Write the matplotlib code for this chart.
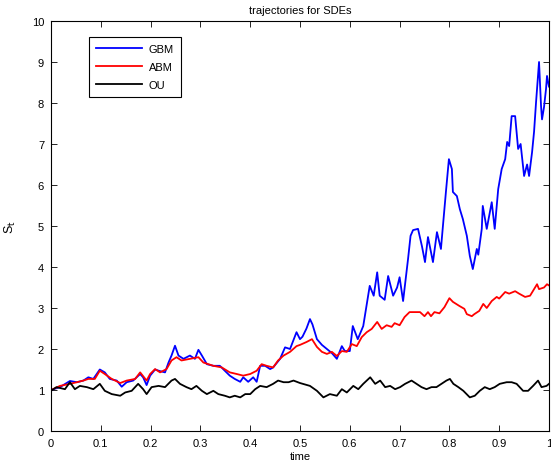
import matplotlib

matplotlib.use("Agg")
import matplotlib.pyplot as plt

plt.rcParams["font.family"] = ["Liberation Sans", "DejaVu Sans"]

# GBM path
gbm_t = [0.0, 0.018, 0.038, 0.052, 0.065, 0.075, 0.085, 0.098, 0.108, 0.118,
         0.132, 0.142, 0.152, 0.165, 0.179, 0.185, 0.192, 0.199, 0.209, 0.219,
         0.229, 0.236, 0.242, 0.249, 0.256, 0.266, 0.279, 0.289, 0.296, 0.303,
         0.313, 0.326, 0.339, 0.349, 0.359, 0.369, 0.38, 0.386, 0.396, 0.406,
         0.413, 0.42, 0.43, 0.44, 0.446, 0.46, 0.47, 0.48, 0.493, 0.5,
         0.505, 0.513, 0.52, 0.525, 0.534, 0.544, 0.554, 0.564, 0.574, 0.584,
         0.59, 0.6, 0.606, 0.616, 0.627, 0.64, 0.648, 0.655, 0.66, 0.67,
         0.677, 0.687, 0.695, 0.7, 0.707, 0.717, 0.722, 0.727, 0.737, 0.745,
         0.751, 0.757, 0.767, 0.775, 0.783, 0.787, 0.793, 0.799, 0.805, 0.807,
         0.815, 0.821, 0.827, 0.835, 0.841, 0.847, 0.855, 0.858, 0.865, 0.867,
         0.875, 0.885, 0.891, 0.898, 0.905, 0.912, 0.916, 0.92, 0.925, 0.932,
         0.938, 0.943, 0.95, 0.956, 0.96, 0.966, 0.97, 0.974, 0.98, 0.984,
         0.986, 0.99, 0.994, 0.996, 1.0]
gbm_s = [1.0, 1.07, 1.22, 1.19, 1.23, 1.31, 1.27, 1.5, 1.43, 1.27,
         1.23, 1.08, 1.19, 1.23, 1.39, 1.31, 1.12, 1.35, 1.5, 1.46,
         1.43, 1.67, 1.84, 2.08, 1.84, 1.76, 1.84, 1.76, 1.98, 1.84,
         1.63, 1.59, 1.59, 1.47, 1.35, 1.27, 1.2, 1.31, 1.2, 1.31,
         1.2, 1.59, 1.59, 1.51, 1.55, 1.76, 2.04, 2.0, 2.41, 2.24,
         2.3, 2.5, 2.73, 2.6, 2.24, 2.1, 2.0, 1.9, 1.76, 2.07,
         1.95, 1.95, 2.56, 2.24, 2.56, 3.54, 3.3, 3.87, 3.3, 3.2,
         3.78, 3.3, 3.5, 3.75, 3.17, 4.2, 4.76, 4.9, 4.93, 4.5,
         4.12, 4.73, 4.12, 4.85, 4.44, 5.0, 5.83, 6.63, 6.39, 5.83,
         5.73, 5.41, 5.17, 4.76, 4.27, 3.95, 4.44, 4.3, 4.93, 5.49,
         4.93, 5.58, 4.93, 5.9, 6.39, 6.63, 7.05, 6.95, 7.68, 7.68,
         6.88, 7.0, 6.22, 6.5, 6.22, 6.8, 7.3, 8.02, 9.0, 7.93,
         7.6, 7.9, 8.34, 8.66, 8.4]

# ABM path
abm_t = [0.0, 0.018, 0.038, 0.052, 0.065, 0.075, 0.088, 0.098, 0.108, 0.122,
         0.139, 0.152, 0.169, 0.179, 0.192, 0.199, 0.209, 0.219, 0.232, 0.242,
         0.252, 0.262, 0.279, 0.296, 0.306, 0.326, 0.343, 0.359, 0.373, 0.386,
         0.4, 0.413, 0.423, 0.433, 0.446, 0.456, 0.467, 0.48, 0.493, 0.5,
         0.513, 0.524, 0.534, 0.544, 0.554, 0.564, 0.574, 0.584, 0.594, 0.604,
         0.614, 0.624, 0.634, 0.644, 0.655, 0.664, 0.674, 0.684, 0.69, 0.7,
         0.71, 0.72, 0.73, 0.741, 0.75, 0.757, 0.763, 0.77, 0.78, 0.79,
         0.8, 0.807, 0.82, 0.83, 0.835, 0.845, 0.85, 0.86, 0.868, 0.875,
         0.885, 0.895, 0.9, 0.912, 0.92, 0.932, 0.94, 0.952, 0.962, 0.968,
         0.976, 0.98, 0.99, 0.996, 1.0]
abm_s = [1.0, 1.1, 1.15, 1.19, 1.23, 1.27, 1.27, 1.47, 1.39, 1.27,
         1.17, 1.23, 1.27, 1.43, 1.23, 1.39, 1.51, 1.43, 1.51, 1.72,
         1.8, 1.72, 1.76, 1.8, 1.67, 1.59, 1.55, 1.43, 1.39, 1.35,
         1.39, 1.47, 1.63, 1.59, 1.55, 1.72, 1.84, 1.93, 2.07, 2.1,
         2.17, 2.24, 2.05, 1.93, 1.88, 1.93, 1.83, 1.95, 1.93, 2.12,
         2.07, 2.29, 2.41, 2.49, 2.66, 2.49, 2.58, 2.54, 2.63, 2.58,
         2.78, 2.9, 2.9, 2.9, 2.8, 2.9, 2.8, 2.9, 2.87, 3.02,
         3.24, 3.15, 3.05, 2.98, 2.85, 2.8, 2.85, 2.93, 3.1, 3.0,
         3.17, 3.27, 3.23, 3.39, 3.35, 3.41, 3.35, 3.27, 3.3, 3.42,
         3.58, 3.46, 3.5, 3.58, 3.55]

# OU path
ou_t = [0.0, 0.011, 0.028, 0.038, 0.048, 0.058, 0.072, 0.085, 0.098, 0.108,
        0.122, 0.139, 0.149, 0.162, 0.175, 0.185, 0.192, 0.202, 0.216, 0.229,
        0.242, 0.249, 0.259, 0.272, 0.282, 0.292, 0.303, 0.313, 0.326, 0.336,
        0.349, 0.359, 0.369, 0.38, 0.39, 0.4, 0.41, 0.42, 0.433, 0.446,
        0.456, 0.467, 0.477, 0.487, 0.5, 0.52, 0.534, 0.547, 0.56, 0.574,
        0.584, 0.594, 0.607, 0.617, 0.627, 0.641, 0.651, 0.661, 0.671, 0.681,
        0.691, 0.701, 0.711, 0.724, 0.734, 0.744, 0.754, 0.764, 0.774, 0.784,
        0.794, 0.801, 0.808, 0.818, 0.828, 0.841, 0.851, 0.861, 0.871, 0.881,
        0.891, 0.901, 0.915, 0.925, 0.935, 0.948, 0.958, 0.968, 0.978, 0.985,
        0.995, 1.0]
ou_s = [0.98, 1.07, 1.02, 1.19, 1.02, 1.1, 1.07, 1.02, 1.15, 0.98,
        0.9, 0.86, 0.94, 0.98, 1.15, 1.02, 0.9, 1.07, 1.1, 1.07,
        1.23, 1.27, 1.15, 1.07, 1.02, 1.1, 0.98, 0.9, 0.98, 0.9,
        0.86, 0.82, 0.86, 0.82, 0.9, 0.9, 1.02, 1.1, 1.07, 1.15,
        1.23, 1.19, 1.19, 1.23, 1.17, 1.1, 0.98, 0.82, 0.9, 0.86,
        1.02, 0.94, 1.1, 1.02, 1.15, 1.31, 1.15, 1.23, 1.07, 1.1,
        1.02, 1.07, 1.15, 1.23, 1.15, 1.07, 1.02, 1.07, 1.07, 1.15,
        1.23, 1.27, 1.15, 1.07, 0.98, 0.82, 0.86, 0.98, 1.07, 1.02,
        1.07, 1.15, 1.19, 1.19, 1.15, 0.98, 0.98, 1.1, 1.23, 1.07,
        1.1, 1.15]

x_ticks = [0, 0.1, 0.2, 0.3, 0.4, 0.5, 0.6, 0.7, 0.8, 0.9, 1]
x_tick_labels = ["0", "0.1", "0.2", "0.3", "0.4", "0.5", "0.6", "0.7", "0.8", "0.9", "1"]
y_ticks = list(range(0, 11))

fig = plt.figure(figsize=(5.51, 4.64), dpi=100, facecolor="white")
ax = fig.add_axes([51 / 551, 32 / 464, 498 / 551, 410 / 464])

ax.plot(gbm_t, gbm_s, color="#0000ff", linewidth=1.3, label="GBM")
ax.plot(abm_t, abm_s, color="#ff0000", linewidth=1.3, label="ABM")
ax.plot(ou_t, ou_s, color="#000000", linewidth=1.3, label="OU")

ax.set_xlim(0, 1)
ax.set_ylim(0, 10)
ax.set_xticks(x_ticks)
ax.set_xticklabels(x_tick_labels)
ax.set_yticks(y_ticks)
ax.tick_params(direction="in", top=True, right=True, labelsize=8, length=4,
               width=0.6, pad=5)
for spine in ax.spines.values():
    spine.set_linewidth(0.8)

ax.set_title("trajectories for SDEs", fontsize=8, pad=6)
ax.set_xlabel("time", fontsize=8, labelpad=2)
ax.set_ylabel(r"S$_\mathrm{t}$", fontsize=9, labelpad=10)

leg = ax.legend(loc="upper left", bbox_to_anchor=(0.076, 0.961), borderaxespad=0,
                fontsize=8, fancybox=False, edgecolor="black", framealpha=1,
                handlelength=4.2, handletextpad=0.6, borderpad=0.6,
                labelspacing=0.75)
leg.get_frame().set_linewidth(0.8)

fig.savefig("out.png", dpi=100, facecolor="white")
